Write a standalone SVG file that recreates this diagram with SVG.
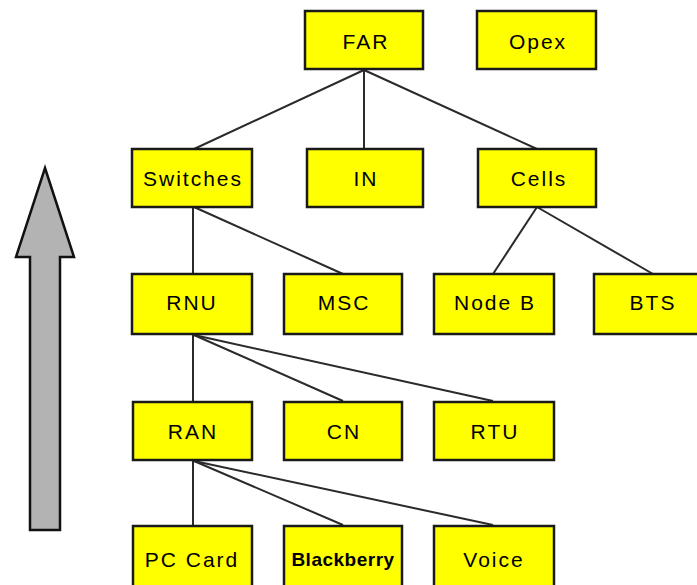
<svg xmlns="http://www.w3.org/2000/svg" width="697" height="585" viewBox="0 0 697 585">
<style>
.box{fill:#ffff00;stroke:#1a1a1a;stroke-width:2.5}
.t{font-family:"Liberation Sans",Arial,sans-serif;font-size:21px;letter-spacing:2px;fill:#000;text-anchor:middle;dominant-baseline:central}
.c{stroke:#2a2a2a;stroke-width:2;fill:none}
</style>
<rect width="697" height="585" fill="#fff"/>
<g id="arrow">
<polygon points="45,168 74,257 60,257 60,530 30,530 30,257 16,257" fill="#b3b3b3" stroke="#111" stroke-width="2.5" stroke-linejoin="miter"/>
</g>
<g id="connectors">
<line class="c" x1="364" y1="70" x2="194" y2="149"/>
<line class="c" x1="364" y1="70" x2="364" y2="149"/>
<line class="c" x1="364" y1="70" x2="537" y2="149"/>
<line class="c" x1="193" y1="207" x2="193" y2="274"/>
<line class="c" x1="194" y1="207" x2="343" y2="274"/>
<line class="c" x1="537" y1="207" x2="493" y2="274"/>
<line class="c" x1="537" y1="207" x2="653" y2="274"/>
<line class="c" x1="193" y1="335" x2="193" y2="401"/>
<line class="c" x1="194" y1="335" x2="343" y2="401"/>
<line class="c" x1="194" y1="335" x2="493" y2="401"/>
<line class="c" x1="193" y1="461" x2="193" y2="525"/>
<line class="c" x1="194" y1="461" x2="343" y2="525"/>
<line class="c" x1="194" y1="461" x2="493" y2="525"/>
</g>
<g id="FAR"><rect class="box" x="305" y="11" width="118" height="58"/><text class="t" x="366" y="41">FAR</text></g>
<g id="Opex"><rect class="box" x="477" y="11" width="119" height="58"/><text class="t" x="538" y="41">Opex</text></g>
<g id="Switches"><rect class="box" x="132" y="149" width="120" height="58"/><text class="t" x="193" y="178">Switches</text></g>
<g id="IN"><rect class="box" x="307" y="149" width="116" height="58"/><text class="t" x="366" y="178">IN</text></g>
<g id="Cells"><rect class="box" x="478" y="149" width="118" height="58"/><text class="t" x="539" y="178">Cells</text></g>
<g id="RNU"><rect class="box" x="132" y="274" width="120" height="60"/><text class="t" x="192" y="302">RNU</text></g>
<g id="MSC"><rect class="box" x="284" y="274" width="118" height="60"/><text class="t" x="344" y="302">MSC</text></g>
<g id="NodeB"><rect class="box" x="434" y="274" width="120" height="60"/><text class="t" x="495" y="302">Node B</text></g>
<g id="BTS"><rect class="box" x="594" y="274" width="110" height="60"/><text class="t" x="653" y="302">BTS</text></g>
<g id="RAN"><rect class="box" x="133" y="402" width="119" height="58"/><text class="t" x="193" y="431">RAN</text></g>
<g id="CN"><rect class="box" x="284" y="402" width="118" height="58"/><text class="t" x="344" y="431">CN</text></g>
<g id="RTU"><rect class="box" x="434" y="402" width="120" height="58"/><text class="t" x="495" y="431">RTU</text></g>
<g id="PCCard"><rect class="box" x="133" y="526" width="119" height="70"/><text class="t" x="192" y="559">PC Card</text></g>
<g id="Blackberry"><rect class="box" x="284" y="526" width="118" height="70"/><text class="t" x="343" y="559" style="font-weight:bold;font-size:19px;letter-spacing:0.5px">Blackberry</text></g>
<g id="Voice"><rect class="box" x="434" y="526" width="120" height="70"/><text class="t" x="494" y="559">Voice</text></g>
</svg>
